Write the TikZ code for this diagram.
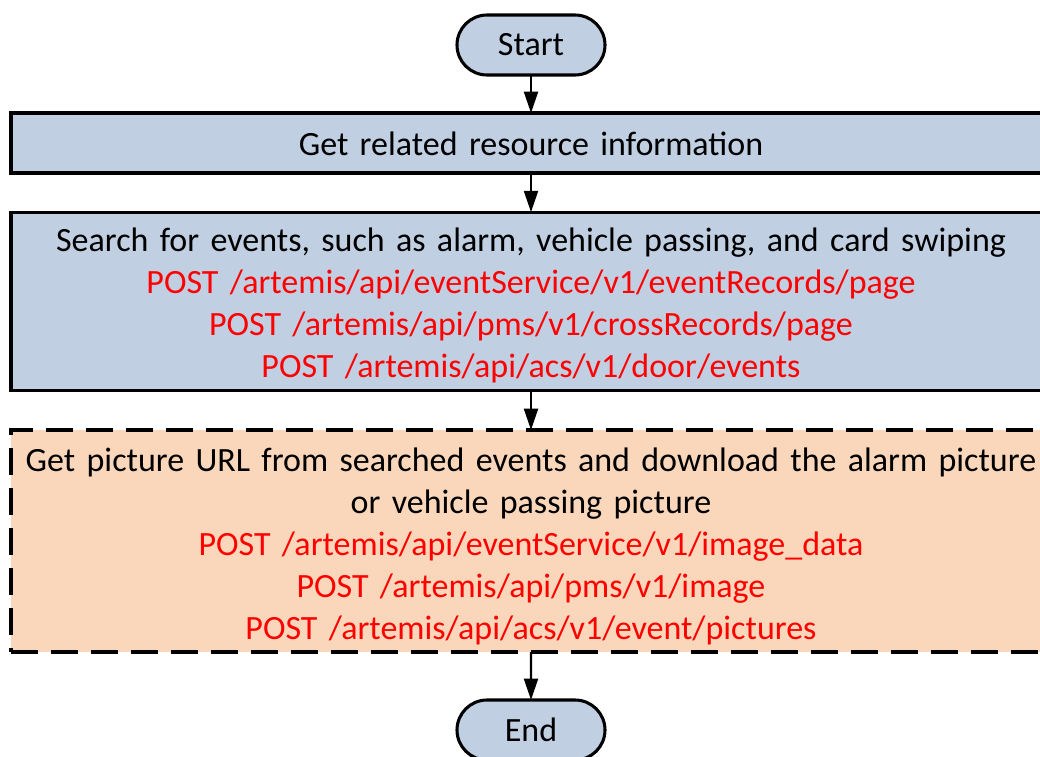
\documentclass[tikz,border=0pt]{standalone}
\usepackage{fontspec}
\setmainfont{Carlito}
\usetikzlibrary{shapes.misc,arrows.meta}
\definecolor{boxblue}{RGB}{192,207,226}
\definecolor{boxorange}{RGB}{250,215,187}
\definecolor{apired}{RGB}{255,0,0}
\begin{document}
\begin{tikzpicture}[x=0.75pt,y=-0.75pt,
  every node/.style={font=\fontsize{25.5}{31.5}\selectfont, inner sep=0pt, outer sep=0pt},
  term/.style={rounded rectangle, draw=black, line width=2.3pt, fill=boxblue, minimum width=111pt, minimum height=45pt},
  procbox/.style={rectangle, draw=black, line width=2.3pt, fill=boxblue, minimum width=780pt},
  optbox/.style={rectangle, draw=black, line width=2.4pt, fill=boxorange, dash pattern=on 20pt off 10pt, minimum width=780pt},
  boxtext/.style={text width=776pt, align=center},
  flow/.style={line width=1.6pt, -{Triangle[length=16pt,width=10.5pt]}}
]
\useasboundingbox (0,0) rectangle (1040,757);
\clip (0,0) rectangle (1040,757);
\fill[white] (0,0) rectangle (1040,757);
\node[term] (start) at (531,45) {Start};
\node[procbox, minimum height=45pt] (b1) at (531,143) {};
\node[boxtext] (b1t) at (531,144) {Get related resource information};
\node[procbox, minimum height=134pt] (b2) at (531,301.5) {};
\node[boxtext] (b2t) at (531,305.5) {Search for events, such as alarm, vehicle passing, and card swiping\\
\textcolor{apired}{POST /artemis/api/eventService/v1/eventRecords/page}\\
\textcolor{apired}{POST /artemis/api/pms/v1/crossRecords/page}\\
\textcolor{apired}{POST /artemis/api/acs/v1/door/events}};
\node[optbox, minimum height=166.5pt] (b3) at (531,541) {};
\node[boxtext] (b3t) at (531,546) {Get picture URL from searched events and download the alarm picture\\
or vehicle passing picture\\
\textcolor{apired}{POST /artemis/api/eventService/v1/image\_data}\\
\textcolor{apired}{POST /artemis/api/pms/v1/image}\\
\textcolor{apired}{POST /artemis/api/acs/v1/event/pictures}};
\node[term] (end) at (531,730) {End};
\draw[flow] (start) -- (b1);
\draw[flow] (b1) -- (b2);
\draw[flow] (b2) -- (b3);
\draw[flow] (b3) -- (end);
\end{tikzpicture}
\end{document}
